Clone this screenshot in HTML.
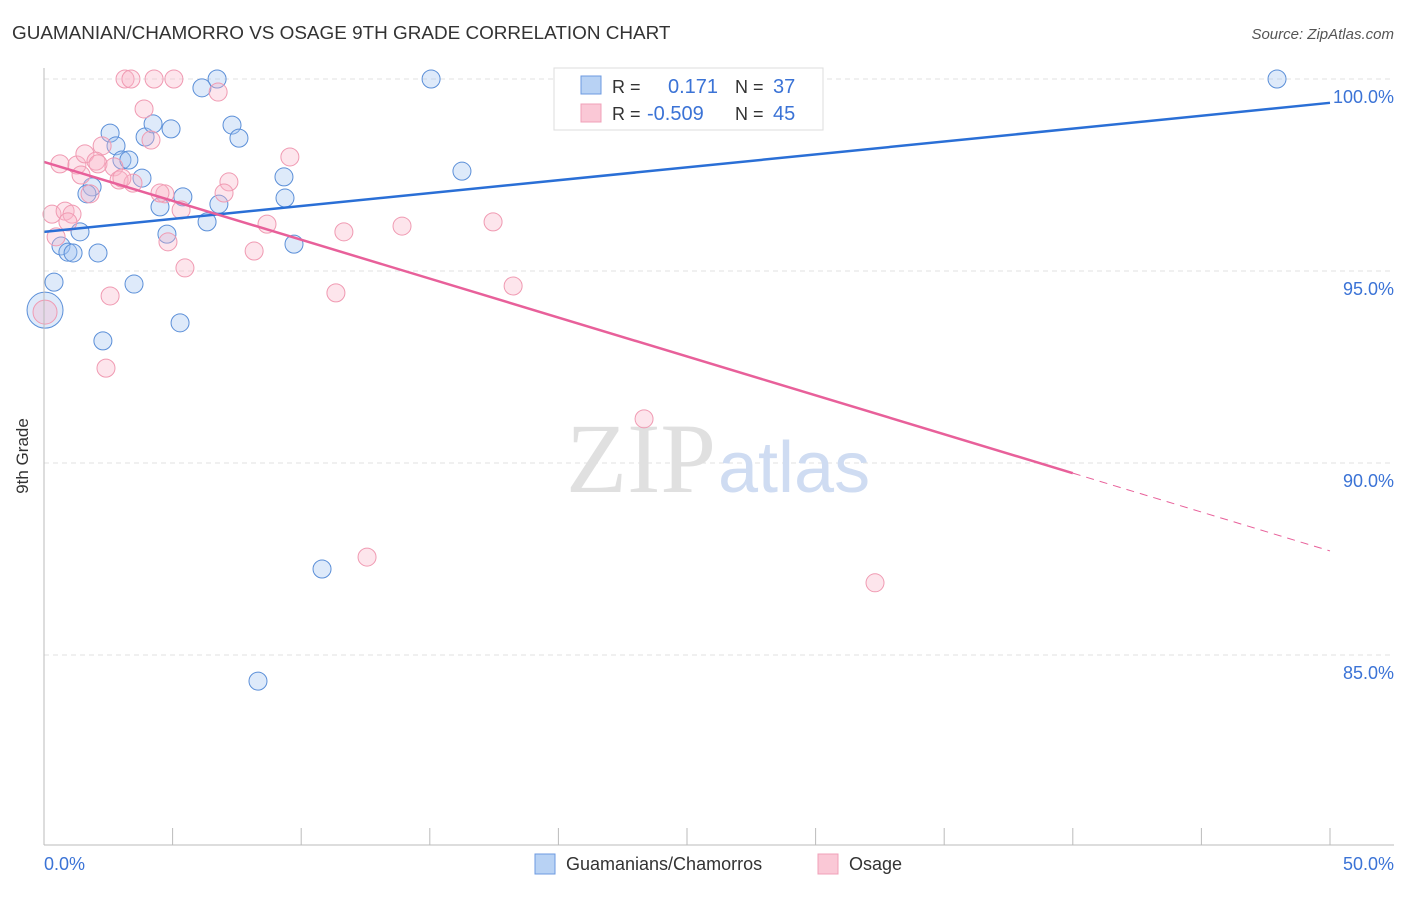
<!DOCTYPE html>
<html><head><meta charset="utf-8"><style>
body{margin:0;background:#fff;font-family:"Liberation Sans",sans-serif}
</style></head><body>
<svg id="chart" width="1406" height="892" xmlns="http://www.w3.org/2000/svg" font-family="Liberation Sans, sans-serif">
<text x="12" y="39" font-size="18.9" fill="#333">GUAMANIAN/CHAMORRO VS OSAGE 9TH GRADE CORRELATION CHART</text>
<text x="1394" y="39" font-size="15" fill="#555" text-anchor="end" font-style="italic">Source: ZipAtlas.com</text>
<text x="28" y="456" font-size="17" fill="#333" text-anchor="middle" transform="rotate(-90 28 456)">9th Grade</text>
<g id="grid"></g>
<text x="716" y="492" font-size="100" fill="#e0e0e0" text-anchor="end" style="font-family:'Liberation Serif',serif">ZIP</text>
<text x="718" y="492" font-size="72" fill="#cfdcf2">atlas</text>
<g id="pts"></g>
<g id="lines"></g>
<line x1="44" y1="68" x2="44" y2="845" stroke="#bbb"/>
<line x1="44" y1="845" x2="1394" y2="845" stroke="#bbb"/>
<text x="44" y="870" font-size="18" fill="#3b73d6">0.0%</text>
<text x="1394" y="870" font-size="18" fill="#3b73d6" text-anchor="end">50.0%</text>
<g>
<rect x="554" y="68" width="269" height="62" fill="#fff" stroke="#ddd"/>
<rect x="581" y="76" width="20" height="18" fill="#b8d2f4" stroke="#6c9ae0"/>
<rect x="581" y="104" width="20" height="18" fill="#fac8d6" stroke="#f0a0b8"/>
<text x="612" y="93" font-size="18" fill="#333">R =</text>
<text x="668" y="93" font-size="20" fill="#3b73d6">0.171</text>
<text x="735" y="93" font-size="18" fill="#333">N =</text>
<text x="773" y="93" font-size="20" fill="#3b73d6">37</text>
<text x="612" y="120" font-size="18" fill="#333">R =</text>
<text x="647" y="120" font-size="20" fill="#3b73d6">-0.509</text>
<text x="735" y="120" font-size="18" fill="#333">N =</text>
<text x="773" y="120" font-size="20" fill="#3b73d6">45</text>
</g>
<g>
<rect x="535" y="854" width="20" height="20" fill="#b8d2f4" stroke="#6c9ae0"/>
<text x="566" y="870" font-size="18" fill="#333">Guamanians/Chamorros</text>
<rect x="818" y="854" width="20" height="20" fill="#fac8d6" stroke="#f0a0b8"/>
<text x="849" y="870" font-size="18" fill="#333">Osage</text>
</g>
</svg>
<script>
const yTicks=[100,95,90,85];
const xTickCount=10;
const blueX=[6.73,15.05,47.94,6.14,2.57,4.94,3.93,7.31,7.58,4.24,2.80,3.03,3.30,3.81,1.87,1.67,16.25,9.33,9.37,5.40,4.51,6.80,6.34,1.40,4.78,9.72,0.66,0.93,1.13,2.10,0.39,3.50,0.04,5.29,2.29,10.81,8.32];
const blueY=[100,100,100,99.77,98.59,98.70,98.49,98.80,98.46,98.83,98.26,97.89,97.89,97.42,97.19,97.01,97.60,97.45,96.90,96.93,96.67,96.74,96.28,96.02,95.96,95.70,95.65,95.49,95.47,95.47,94.71,94.66,93.98,93.65,93.18,87.24,84.32];
const pinkX=[3.15,3.38,4.28,5.05,6.77,3.89,4.16,9.56,0.62,1.28,1.59,2.26,2.02,2.10,2.72,2.92,1.44,3.46,3.03,7.19,1.79,4.70,7.00,0.31,0.82,1.09,0.93,5.33,8.67,11.66,13.92,17.46,0.47,4.82,8.17,5.48,18.24,11.35,2.57,0.04,2.41,23.33,12.56,32.31,4.51];
const pinkY=[100,100,100,100,99.66,99.22,98.41,97.97,97.79,97.76,98.05,98.26,97.86,97.79,97.71,97.37,97.50,97.29,97.42,97.32,97.01,97.01,97.03,96.48,96.56,96.48,96.28,96.59,96.22,96.02,96.17,96.28,95.89,95.76,95.52,95.08,94.61,94.43,94.35,93.93,92.47,91.15,87.55,86.88,97.03];
const blueTrend=[96.02,99.38];
const pinkTrend=[97.84,87.71];
const pinkSolidEnd=40;
const X=v=>44+v/50*1286;
const Y=v=>79+(100-v)*38.4;
const NS="http://www.w3.org/2000/svg";
function mk(tag,attrs,parent){const e=document.createElementNS(NS,tag);for(const k in attrs)e.setAttribute(k,attrs[k]);document.getElementById(parent).appendChild(e);return e;}
yTicks.forEach(t=>{
  const l=mk('line',{x1:44,x2:1394,y1:Y(t),y2:Y(t),stroke:'#e2e2e2','stroke-dasharray':'5,4'},'grid');
  
  
  const tx=mk('text',{x:1394,y:Y(t)+24,'font-size':18,fill:'#3b73d6','text-anchor':'end'},'grid');
  tx.textContent=t.toFixed(1)+'%';
  
  
});
for(let i=1;i<=xTickCount;i++){
  const l=mk('line',{x1:X(i*5),x2:X(i*5),y1:828,y2:845,stroke:'#bbb'},'grid');
  
  
}
blueX.forEach((v,i)=>{
  const c=mk('circle',{cx:X(v),cy:Y(blueY[i]),r:(i==32?18:9),fill:'rgba(160,196,240,0.35)',stroke:'#5b8fd8','stroke-width':1},'pts');
  
  
});
pinkX.forEach((v,i)=>{
  const c=mk('circle',{cx:X(v),cy:Y(pinkY[i]),r:(i==39?12:9),fill:'rgba(248,180,200,0.35)',stroke:'#f09ab2','stroke-width':1},'pts');
  
  
});
const bl=mk('line',{x1:X(0),y1:Y(blueTrend[0]),x2:X(50),y2:Y(blueTrend[1]),stroke:'#2a6fd6','stroke-width':2.5},'lines');


const pm=pinkTrend[0]+(pinkTrend[1]-pinkTrend[0])*pinkSolidEnd/50;
const pl=mk('line',{x1:X(0),y1:Y(pinkTrend[0]),x2:X(pinkSolidEnd),y2:Y(pm),stroke:'#e8609a','stroke-width':2.5},'lines');


const pd=mk('line',{x1:X(pinkSolidEnd),y1:Y(pm),x2:X(50),y2:Y(pinkTrend[1]),stroke:'#e8609a','stroke-width':1,'stroke-dasharray':'8,6'},'lines');


</script>
</body></html>
